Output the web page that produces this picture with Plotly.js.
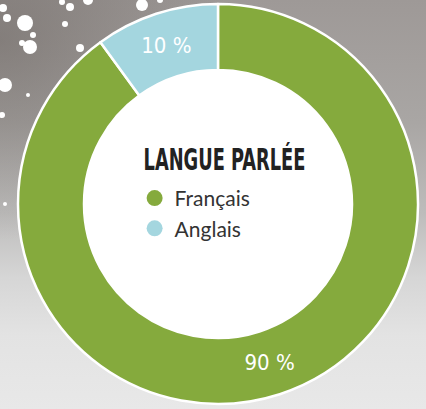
<!DOCTYPE html>
<html>
<head>
<meta charset="utf-8">
<script src="https://cdn.plot.ly/plotly-3.0.1.min.js"></script>
<style>
  html, body { margin: 0; padding: 0; }
  body {
    width: 426px; height: 409px; overflow: hidden;
    background:
      radial-gradient(ellipse 230px 200px at 0px 40px, rgba(95,88,84,0.45), rgba(95,88,84,0) 100%),
      linear-gradient(to bottom, #9e9997 0%, #a9a6a4 30%, #bdbcbb 52%, #d6d6d6 68%, #e3e3e3 82%, #e8e8e8 100%);
  }
  #chart { width: 426px; height: 409px; }
  #chart .annotation-text, #chart .slicetext { font-stretch: 75% !important; }
  #chart .annotation-text {
    transform-box: fill-box; transform-origin: center; transform: scaleX(0.66);
  }
</style>
</head>
<body>
<div id="chart"></div>
<script>
// Data
const categories = ["Français", "Anglais"];
const values = [90, 10];
const colors = ["#85aa3d", "#a4d6df"];
const chartTitle = "LANGUE PARLÉE";

const pieTrace = {
  type: "pie",
  labels: categories,
  values: values,
  sort: false,
  direction: "clockwise",
  rotation: 0,
  hole: 0.67,
  marker: { colors: colors, line: { color: "#ffffff", width: 2.5 } },
  texttemplate: "%{value} %",
  textinfo: "text",
  textposition: "inside",
  insidetextorientation: "horizontal",
  textfont: { color: "#ffffff", size: 22, family: "DejaVu Sans", weight: "normal" },
  showlegend: false,
  hoverinfo: "label+percent",
  domain: { x: [0.04225, 0.98122], y: [0.01222, 0.99022] }
};

const legendTraces = categories.map((c, i) => ({
  type: "scatter",
  mode: "markers",
  x: [null], y: [null],
  name: c,
  marker: { color: colors[i], size: 20, symbol: "circle" },
  showlegend: true,
  hoverinfo: "skip"
}));

// white splatter decorations
const dots = [[3,8,4],[7,18,4],[25,23,8],[33,35,3],[30,47,7],[22,43,3],[65,24,3],[70,7,4],[62,2,3],[88,0,5],[80,48,4],[142,5,6],[5,85,7],[28,95,2],[2,115,3],[5,204,2],[160,0,3]];
const W = 426, H = 409;
const shapes = dots.map(d => ({
  type: "circle", xref: "paper", yref: "paper", layer: "below",
  x0: (d[0]-d[2])/W, x1: (d[0]+d[2])/W, y0: (H-d[1]-d[2])/H, y1: (H-d[1]+d[2])/H,
  fillcolor: "#ffffff", line: { width: 0 }
}));
// white centre of the ring
shapes.push({
  type: "circle", xref: "paper", yref: "paper", layer: "below",
  x0: (218-140)/W, x1: (218+140)/W, y0: (205-140)/H, y1: (205+140)/H,
  fillcolor: "#ffffff", line: { width: 0 }
});

const layout = {
  width: 426, height: 409,
  margin: { l: 0, r: 0, t: 0, b: 0 },
  paper_bgcolor: "rgba(0,0,0,0)",
  plot_bgcolor: "rgba(0,0,0,0)",
  xaxis: { visible: false },
  yaxis: { visible: false },
  shapes: shapes,
  showlegend: true,
  legend: {
    x: 0.316, y: 0.565, xanchor: "left", yanchor: "top",
    bgcolor: "rgba(0,0,0,0)",
    font: { family: "Lato, Noto Sans, sans-serif", size: 21, color: "#333333" },
    itemclick: false, itemdoubleclick: false,
    tracegroupgap: 6
  },
  annotations: [{
    text: "<b>" + chartTitle + "</b>",
    xref: "paper", yref: "paper", x: 0.526, y: 0.61,
    xanchor: "center", yanchor: "middle", showarrow: false,
    font: { family: "DejaVu Sans", size: 30, color: "#222222" }
  }]
};

Plotly.newPlot("chart", [pieTrace, ...legendTraces], layout, { displayModeBar: false, staticPlot: true });
</script>
</body>
</html>
